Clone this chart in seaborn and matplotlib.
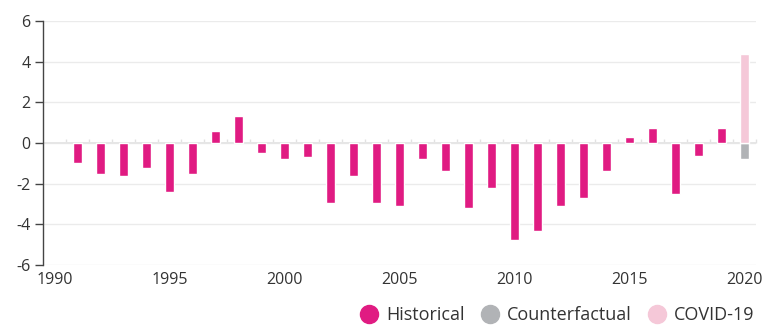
import matplotlib
matplotlib.use("Agg")
import matplotlib.pyplot as plt
from matplotlib.lines import Line2D
import numpy as np
import pandas as pd
import seaborn as sns

# Annual values, 1991-2019 historical record
years = list(range(1991, 2020))
historical = [-1.0, -1.52, -1.62, -1.23, -2.41, -1.52, 0.57, 1.31, -0.49, -0.79,
              -0.69, -2.95, -1.62, -2.95, -3.11, -0.80, -1.39, -3.21, -2.23, -4.79,
              -4.34, -3.11, -2.72, -1.39, 0.28, 0.72, -2.52, -0.66, 0.72]
# 2020 split into the counterfactual and the COVID-19 effect
year_2020 = 2020
counterfactual_2020 = -0.8
covid_2020 = 4.4

series_names = ["Historical", "Counterfactual", "COVID-19"]
colors = {"Historical": "#E01B82", "Counterfactual": "#B1B3B6", "COVID-19": "#F5C8D8"}

df = pd.DataFrame({
    "year": years + [year_2020, year_2020],
    "value": historical + [counterfactual_2020, covid_2020],
    "series": ["Historical"] * len(years) + ["Counterfactual", "COVID-19"],
})

sns.set_theme(style="white")
plt.rcParams["font.family"] = ["Open Sans", "DejaVu Sans"]
plt.rcParams["axes.unicode_minus"] = False

fig = plt.figure(figsize=(7.83, 3.26), dpi=100)
ax = fig.add_axes([43 / 783, 1 - 265 / 326, (756 - 43) / 783, (265 - 21) / 326])

sns.barplot(data=df, x="year", y="value", hue="series", hue_order=series_names,
            palette=colors, native_scale=True, dodge=False, width=0.35,
            saturation=1, legend=False, ax=ax, zorder=3)

ax.set_xlim(1989.5, 2020.5)
ax.set_ylim(-6, 6)
ax.set_yticks(np.arange(-6, 7, 2))
ax.set_xticks(np.arange(1990, 2021, 5))
ax.set_xlabel("")
ax.set_ylabel("")

ax.yaxis.grid(True, color="#EBEBEB", linewidth=1)
ax.set_axisbelow(True)
for side in ["top", "right", "bottom"]:
    ax.spines[side].set_visible(False)
ax.spines["left"].set_color("#444444")
ax.spines["left"].set_linewidth(1)

ax.tick_params(axis="y", length=6, width=1, color="#444444", labelcolor="#333333",
               labelsize=11.5, pad=3, left=True)
ax.tick_params(axis="x", length=0, labelcolor="#333333", labelsize=11.5, pad=5)

# Zero baseline with small year-separator ticks
ax.axhline(0, color="#E6E6E6", linewidth=1.4, zorder=1)
zero = ax.secondary_xaxis(0.5)
zero.set_xticks(np.arange(1990.5, 2021, 1))
zero.set_xticklabels([])
zero.tick_params(axis="x", length=3, width=1, color="#E2E2E2", direction="out")
for sp in zero.spines.values():
    sp.set_visible(False)

handles = [Line2D([0], [0], marker="o", linestyle="", markersize=13,
                  markerfacecolor=colors[s], markeredgecolor=colors[s], label=s)
           for s in series_names]
fig.legend(handles=handles, loc="lower right", bbox_to_anchor=(758 / 783, -0.005), ncol=3,
           frameon=False, fontsize=13, handletextpad=0.25, columnspacing=0.7,
           handlelength=1.4, borderpad=0.2, borderaxespad=0, labelcolor="#333333")

fig.savefig("out.png", dpi=100)
